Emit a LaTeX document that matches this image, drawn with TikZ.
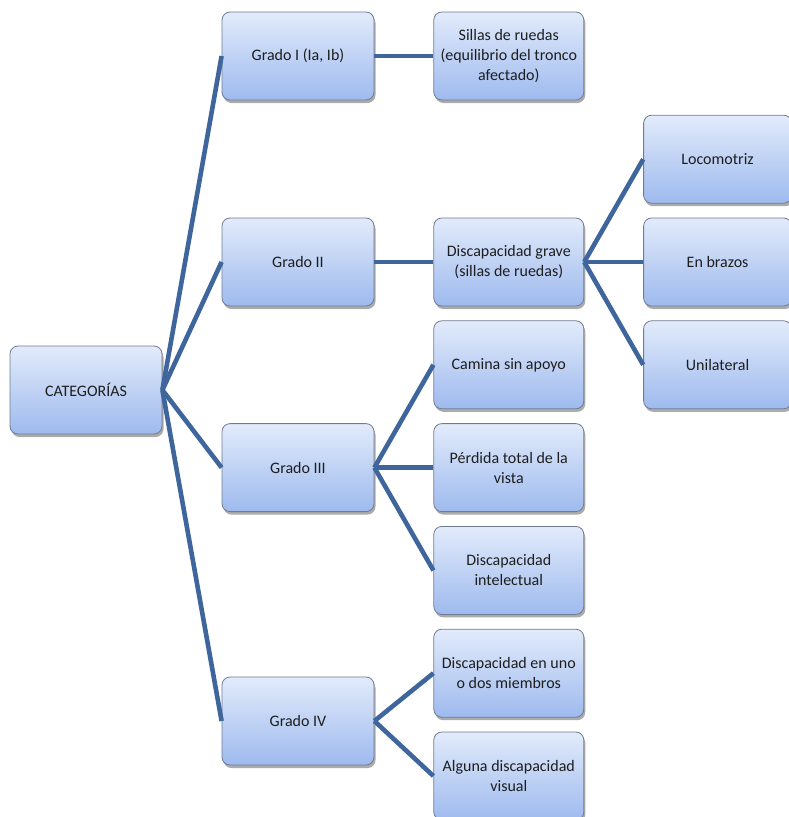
\documentclass[tikz,border=0pt]{standalone}
\usepackage{fontspec}
\setmainfont{Carlito}
\usepackage{xcolor}
\usetikzlibrary{positioning, shadows}

\definecolor{boxtop}{RGB}{226,235,251}
\definecolor{boxbot}{RGB}{158,186,238}
\definecolor{boxline}{RGB}{112,124,146}
\definecolor{linkc}{RGB}{62,102,156}
\definecolor{txtc}{RGB}{30,30,30}

\begin{document}
\begin{tikzpicture}[
    x=1pt, y=1pt,
    node distance=14pt and 59pt,
    box/.style={draw=boxline, line width=0.8pt, rectangle, rounded corners=8pt,
        minimum width=152pt, minimum height=88pt, align=center,
        top color=boxtop, bottom color=boxbot, text=txtc,
        font=\fontsize{16}{20}\selectfont,
        drop shadow={shadow xshift=1.5pt, shadow yshift=-3pt, fill=black!65, opacity=0.5}},
    subbox/.style={box, minimum width=150pt},
    leafbox/.style={box, minimum width=148pt},
    link/.style={draw=linkc, line width=4.6pt}
]
    \fill[white] (0,0) rectangle (788,-817);
    \useasboundingbox (0,0) rectangle (788,-817);

    \node[box] (cat) at (86,-390) {CATEGORÍAS};
    \node[box] (g1) at (298,-56) {Grado I (Ia, Ib)};
    \node[box] (g2) at (298,-262) {Grado II};

    \node[subbox, right=of g1] (sillas) {Sillas de ruedas\\(equilibrio del tronco\\afectado)};
    \node[subbox, right=of g2] (grave) {Discapacidad grave\\(sillas de ruedas)};
    \node[subbox, below=of grave] (camina) {Camina sin apoyo};
    \node[subbox, below=of camina] (vista) {Pérdida total de la\\vista};
    \node[subbox, below=of vista] (intel) {Discapacidad\\intelectual};
    \node[subbox, below=of intel] (miembros) {Discapacidad en uno\\o dos miembros};
    \node[subbox, below=of miembros] (visual) {Alguna discapacidad\\visual};

    \node[box, left=of vista] (g3) {Grado III};
    \node[box] (g4) at (298,-721) {Grado IV};

    \node[leafbox, right=of grave] (brazos) {En brazos};
    \node[leafbox, above=of brazos] (loco) {Locomotriz};
    \node[leafbox, below=of brazos] (unil) {Unilateral};

    \draw[link] (cat.east) -- (g1.west);
    \draw[link] (cat.east) -- (g2.west);
    \draw[link] (cat.east) -- (g3.west);
    \draw[link] (cat.east) -- (g4.west);
    \draw[link] (g1.east) -- (sillas.west);
    \draw[link] (g2.east) -- (grave.west);
    \draw[link] (grave.east) -- (loco.west);
    \draw[link] (grave.east) -- (brazos.west);
    \draw[link] (grave.east) -- (unil.west);
    \draw[link] (g3.east) -- (camina.west);
    \draw[link] (g3.east) -- (vista.west);
    \draw[link] (g3.east) -- (intel.west);
    \draw[link] (g4.east) -- (miembros.west);
    \draw[link] (g4.east) -- (visual.west);
\end{tikzpicture}
\end{document}
